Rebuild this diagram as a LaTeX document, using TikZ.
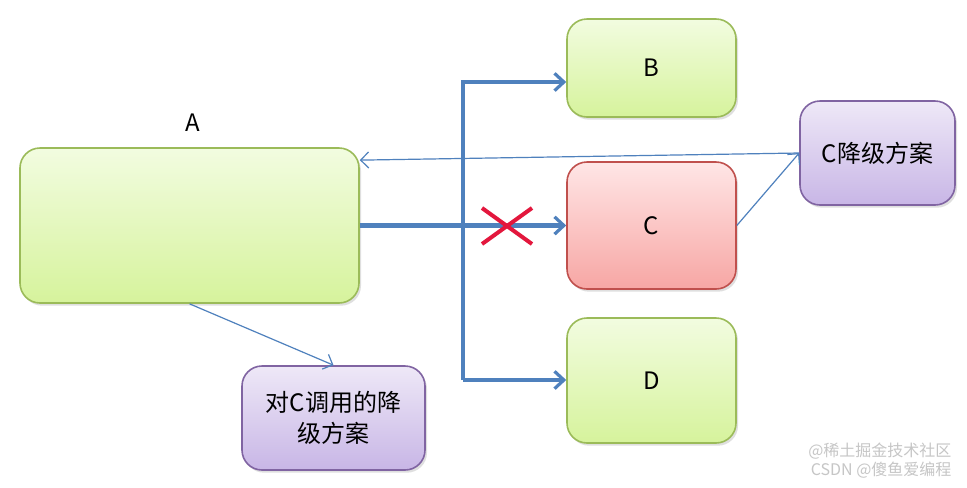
\documentclass[tikz,border=0pt]{standalone}
\usepackage{fontspec}
\setmainfont{Noto Sans CJK SC}
\usetikzlibrary{arrows.meta,shadows,calc}
\definecolor{gtop}{HTML}{F2FCE0}
\definecolor{gbot}{HTML}{D6F39C}
\definecolor{gbd}{HTML}{9BBB59}
\definecolor{rtop}{HTML}{FFE6E6}
\definecolor{rbot}{HTML}{F7A6A4}
\definecolor{rbd}{HTML}{C0504D}
\definecolor{ptop}{HTML}{EEE8F7}
\definecolor{pbot}{HTML}{C8B6E6}
\definecolor{pbd}{HTML}{8064A2}
\definecolor{lineblue}{HTML}{4F81BD}
\definecolor{xred}{HTML}{E3173D}
\tikzset{
  box/.style={rounded corners=15pt, line width=1.2pt, align=center,
    font=\fontsize{18}{23}\selectfont,
    drop shadow={shadow xshift=1.5pt,shadow yshift=-2pt,opacity=0.25}},
  greenbox/.style={box, draw=gbd, top color=gtop, bottom color=gbot},
  redbox/.style={box, draw=rbd, top color=rtop, bottom color=rbot},
  purplebox/.style={box, draw=pbd, top color=ptop, bottom color=pbot},
  thickarrow/.style={draw=lineblue, line width=3pt,
    -{Straight Barb[length=7pt,width=13pt,line width=2.4pt]}},
  thinarrow/.style={draw=lineblue, line width=0.9pt,
    -{Straight Barb[length=6pt,width=12pt,line width=0.9pt]}},
  crossline/.style={draw=xred, line width=3pt},
  wmark/.style={text=gray!45, font=\fontsize{12}{14}\selectfont, inner sep=1pt}
}
\begin{document}
\begin{tikzpicture}[x=0.75pt,y=-0.75pt]
\useasboundingbox (0,0) rectangle (967,487);
\fill[white] (0,0) rectangle (967,487);
\node[greenbox, minimum width=254.25pt, minimum height=116.25pt] (A) at (189.5,225.5) {};
\node[font=\fontsize{18}{23}\selectfont] (Alabel) at (193,123) {A};
\node[greenbox, minimum width=126.75pt, minimum height=73.5pt] (B) at (651.5,68) {B};
\node[redbox, minimum width=126.75pt, minimum height=95.25pt] (C) at (651.5,225.5) {C};
\node[greenbox, minimum width=126.75pt, minimum height=93.75pt] (D) at (651.5,380.5) {D};
\node[purplebox, minimum width=116.25pt, minimum height=78pt] (CP) at (877.5,153) {C降级方案};
\node[purplebox, minimum width=137.25pt, minimum height=78pt] (DP) at (333.5,418) {对C调用的降\\级方案};
% junction coordinates
\coordinate (jt) at (463,82);
\coordinate (jb) at (463,380);
\coordinate (X) at (507,226);
% thick connectors
\draw[thickarrow] (jb) -- (jt) -- (jt -| B.west);
\draw[thickarrow] (jb) -- (jb -| D.west);
\draw[thickarrow, line width=3.5pt] (A.east) -- (C.west);
% thin connectors
\draw[thinarrow] (CP.west) -- (A.21);
\draw[thinarrow] (C.east) -- (CP.west);
\draw[thinarrow] (A.south) -- (DP.north);
% red cross
\draw[crossline] ($(X)+(-25,-18)$) -- ($(X)+(25,18)$);
\draw[crossline] ($(X)+(-25,18)$) -- ($(X)+(25,-18)$);
% watermarks
\node[wmark, anchor=east] (wm1) at (953,451) {@稀土掘金技术社区};
\node[wmark, anchor=east] (wm2) at (953,470) {CSDN @傻鱼爱编程};
\end{tikzpicture}
\end{document}
